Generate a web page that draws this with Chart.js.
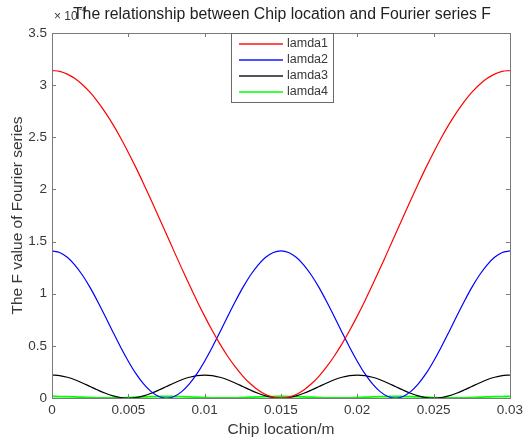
<!DOCTYPE html>
<html>
<head>
<meta charset="utf-8">
<script src="https://cdn.jsdelivr.net/npm/chart.js@4.4.0/dist/chart.umd.min.js"></script>
<style>
  html, body { margin: 0; padding: 0; background: #fff; }
  #wrap { width: 527px; height: 444px; position: relative; }
</style>
</head>
<body>
<div id="wrap"><canvas id="chart" width="527" height="444"></canvas></div>
<script>
// chip location (m)
var xValues = [0, 0.0005, 0.001, 0.0015, 0.002, 0.0025, 0.003, 0.0035, 0.004, 0.0045,
    0.005, 0.0055, 0.006, 0.0065, 0.007, 0.0075, 0.008, 0.0085, 0.009, 0.0095,
    0.01, 0.0105, 0.011, 0.0115, 0.012, 0.0125, 0.013, 0.0135, 0.014, 0.0145,
    0.015, 0.0155, 0.016, 0.0165, 0.017, 0.0175, 0.018, 0.0185, 0.019, 0.0195,
    0.02, 0.0205, 0.021, 0.0215, 0.022, 0.0225, 0.023, 0.0235, 0.024, 0.0245,
    0.025, 0.0255, 0.026, 0.0265, 0.027, 0.0275, 0.028, 0.0285, 0.029, 0.0295, 0.03];

// F values (x 10^-4)
var lamda1 = [3.14, 3.132, 3.106, 3.063, 3.004, 2.930, 2.840, 2.737, 2.621, 2.493,
    2.355, 2.209, 2.055, 1.897, 1.734, 1.57, 1.406, 1.243, 1.085, 0.931,
    0.785, 0.647, 0.519, 0.403, 0.300, 0.210, 0.136, 0.077, 0.034, 0.009,
    0.00, 0.009, 0.034, 0.077, 0.136, 0.210, 0.300, 0.403, 0.519, 0.647,
    0.785, 0.931, 1.085, 1.243, 1.406, 1.57, 1.734, 1.897, 2.055, 2.209,
    2.355, 2.493, 2.621, 2.737, 2.840, 2.930, 3.004, 3.063, 3.106, 3.132, 3.14];
var lamda2 = [1.41, 1.395, 1.349, 1.275, 1.177, 1.058, 0.923, 0.779, 0.631, 0.487,
    0.353, 0.233, 0.135, 0.061, 0.015, 0.00, 0.015, 0.061, 0.135, 0.233,
    0.353, 0.487, 0.631, 0.779, 0.923, 1.058, 1.177, 1.275, 1.349, 1.395,
    1.41, 1.395, 1.349, 1.275, 1.177, 1.058, 0.923, 0.779, 0.631, 0.487,
    0.353, 0.233, 0.135, 0.061, 0.015, 0.00, 0.015, 0.061, 0.135, 0.233,
    0.353, 0.487, 0.631, 0.779, 0.923, 1.058, 1.177, 1.275, 1.349, 1.395, 1.41];
var lamda3 = [0.22, 0.215, 0.199, 0.175, 0.144, 0.11, 0.076, 0.045, 0.021, 0.005,
    0.00, 0.005, 0.021, 0.045, 0.076, 0.11, 0.144, 0.175, 0.199, 0.215,
    0.22, 0.215, 0.199, 0.175, 0.144, 0.11, 0.076, 0.045, 0.021, 0.005,
    0.00, 0.005, 0.021, 0.045, 0.076, 0.11, 0.144, 0.175, 0.199, 0.215,
    0.22, 0.215, 0.199, 0.175, 0.144, 0.11, 0.076, 0.045, 0.021, 0.005,
    0.00, 0.005, 0.021, 0.045, 0.076, 0.11, 0.144, 0.175, 0.199, 0.215, 0.22];
var lamda4 = [0.015, 0.014, 0.013, 0.010, 0.007, 0.004, 0.001, 0, 0, 0.001,
    0.004, 0.007, 0.010, 0.013, 0.014, 0.015, 0.014, 0.013, 0.010, 0.007,
    0.004, 0.001, 0, 0, 0.001, 0.004, 0.007, 0.010, 0.013, 0.014,
    0.015, 0.014, 0.013, 0.010, 0.007, 0.004, 0.001, 0, 0, 0.001,
    0.004, 0.007, 0.010, 0.013, 0.014, 0.015, 0.014, 0.013, 0.010, 0.007,
    0.004, 0.001, 0, 0, 0.001, 0.004, 0.007, 0.010, 0.013, 0.014, 0.015];

var seriesNames = ['lamda1', 'lamda2', 'lamda3', 'lamda4'];
var seriesColors = ['#ff0000', '#0000ff', '#000000', '#00ff00'];
var legendColors = ['#ff5050', '#5050ff', '#555555', '#40ff40'];
var seriesData = [lamda1, lamda2, lamda3, lamda4];

var titleText = 'The relationship between Chip location and Fourier series F';
var FONT = '"Liberation Sans", Arial, sans-serif';
var TEXT = '#383838';
var AXIS = '#7a7a7a';

function toPoints(ys) {
    var pts = [];
    for (var i = 0; i < xValues.length; i++) {
        pts.push({ x: xValues[i], y: ys[i] });
    }
    return pts;
}

// box, inward ticks, legend, title, exponent
var matlabAxes = {
    id: 'matlabAxes',
    afterDraw: function (chart) {
        var ctx = chart.ctx;
        var a = chart.chartArea;
        var xs = chart.scales.x, ys = chart.scales.y;
        ctx.save();
        ctx.strokeStyle = AXIS;
        ctx.lineWidth = 1;
        ctx.strokeRect(Math.round(a.left) + 0.5, Math.round(a.top) + 0.5,
            Math.round(a.right - a.left), Math.round(a.bottom - a.top));
        ctx.beginPath();
        xs.ticks.forEach(function (t) {
            var px = Math.round(xs.getPixelForValue(t.value)) + 0.5;
            ctx.moveTo(px, a.bottom); ctx.lineTo(px, a.bottom - 4);
            ctx.moveTo(px, a.top); ctx.lineTo(px, a.top + 4);
        });
        ys.ticks.forEach(function (t) {
            var py = Math.round(ys.getPixelForValue(t.value)) + 0.5;
            ctx.moveTo(a.left, py); ctx.lineTo(a.left + 4, py);
            ctx.moveTo(a.right, py); ctx.lineTo(a.right - 4, py);
        });
        ctx.stroke();

        // legend box
        var lx = a.left + 179, ly = a.top, lw = 102, lh = 69;
        ctx.fillStyle = '#ffffff';
        ctx.fillRect(lx, ly, lw, lh);
        ctx.strokeStyle = '#6a6a6a';
        ctx.strokeRect(lx + 0.5, ly + 0.5, lw, lh);
        ctx.font = '12.5px ' + FONT;
        ctx.textBaseline = 'middle';
        ctx.textAlign = 'left';
        for (var i = 0; i < seriesNames.length; i++) {
            var ry = ly + 10 + i * 16;
            ctx.strokeStyle = legendColors[i];
            ctx.lineWidth = 2;
            ctx.beginPath();
            ctx.moveTo(lx + 8, ry + 1); ctx.lineTo(lx + 52, ry + 1);
            ctx.stroke();
            ctx.fillStyle = TEXT;
            ctx.fillText(seriesNames[i], lx + 56, ry + 1);
        }

        // exponent label
        ctx.fillStyle = TEXT;
        ctx.font = '12px ' + FONT;
        ctx.fillText('\u00d7 10', a.left + 2, 17);
        ctx.font = '9px ' + FONT;
        ctx.fillText('-4', a.left + 27, 10);

        // title
        ctx.font = '15.8px ' + FONT;
        ctx.textAlign = 'center';
        ctx.fillStyle = '#222222';
        ctx.fillText(titleText, (a.left + a.right) / 2 + 1, 15);
        ctx.restore();
    }
};

var datasets = seriesData.map(function (ys, i) {
    return {
        label: seriesNames[i],
        data: toPoints(ys),
        borderColor: seriesColors[i],
        backgroundColor: seriesColors[i],
        borderWidth: i === 3 ? 1.8 : 1.2,
        pointRadius: 0,
        tension: 0.3,
        clip: 4
    };
});

new Chart(document.getElementById('chart'), {
    type: 'line',
    data: { datasets: datasets },
    plugins: [matlabAxes],
    options: {
        responsive: false,
        animation: false,
        layout: { padding: { top: 33, right: 15, left: 0, bottom: 0 } },
        plugins: {
            legend: { display: false },
            title: { display: false },
            tooltip: { enabled: false }
        },
        scales: {
            x: {
                type: 'linear',
                min: 0,
                max: 0.03,
                afterFit: function (s) { s.height = 46; },
                grid: { display: false, drawTicks: false },
                border: { display: false },
                ticks: {
                    stepSize: 0.005,
                    padding: 4,
                    color: TEXT,
                    font: { family: FONT, size: 13.5 },
                    maxRotation: 0,
                    autoSkip: false,
                    callback: function (v) { return String(+v.toFixed(3)); }
                },
                title: {
                    display: true,
                    text: 'Chip location/m',
                    color: TEXT,
                    font: { family: FONT, size: 15.5 },
                    padding: { top: 0, bottom: 5 }
                }
            },
            y: {
                min: 0,
                max: 3.5,
                afterFit: function (s) { s.width = 52; },
                grid: { display: false, drawTicks: false },
                border: { display: false },
                ticks: {
                    stepSize: 0.5,
                    padding: 5,
                    color: TEXT,
                    font: { family: FONT, size: 13.5 },
                    callback: function (v) { return String(+v.toFixed(1)); }
                },
                title: {
                    display: true,
                    text: 'The F value of Fourier series',
                    color: TEXT,
                    font: { family: FONT, size: 15.5 },
                    padding: { top: 8, bottom: 0 }
                }
            }
        }
    }
});
</script>
</body>
</html>
